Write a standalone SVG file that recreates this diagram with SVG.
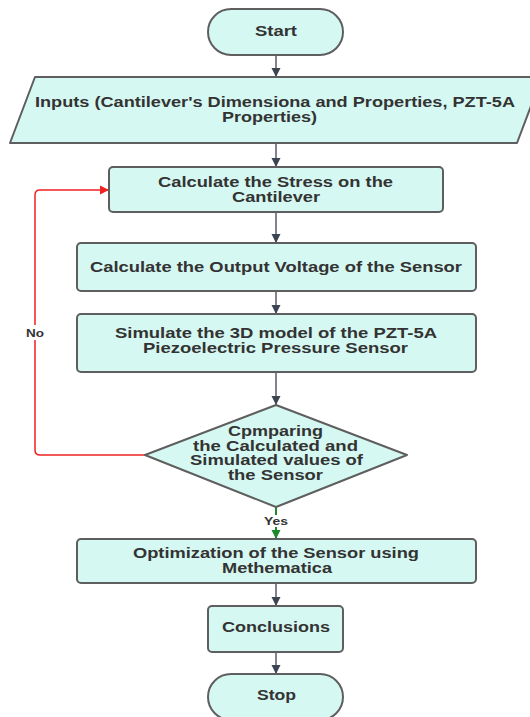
<svg xmlns="http://www.w3.org/2000/svg" width="530" height="717" viewBox="0 0 530 717">
<style>
.n{fill:#d6f8f2;stroke:#5e5e5e;stroke-width:2}
.t{font-family:"Liberation Sans",Arial,sans-serif;font-weight:bold;font-size:14px;fill:#333333;text-anchor:middle}
.s{font-size:10px}
.c{fill:none;stroke:#3d4451;stroke-width:1.3}
</style>
<defs>
<marker id="ah" markerUnits="userSpaceOnUse" markerWidth="10" markerHeight="10" refX="9" refY="5" orient="auto" viewBox="0 0 10 10"><path d="M0,0.5 L9,5 L0,9.5 Z" fill="#3d4451"/></marker>
<marker id="ar" markerUnits="userSpaceOnUse" markerWidth="10" markerHeight="10" refX="9" refY="5" orient="auto" viewBox="0 0 10 10"><path d="M0,0.5 L9,5 L0,9.5 Z" fill="#ee2222"/></marker>
<marker id="ag" markerUnits="userSpaceOnUse" markerWidth="10" markerHeight="10" refX="9" refY="5" orient="auto" viewBox="0 0 10 10"><path d="M0,0.5 L9,5 L0,9.5 Z" fill="#1a8a2a"/></marker>
</defs>
<rect width="530" height="717" fill="#ffffff"/>
<g id="connectors">
<line class="c" x1="276" y1="55" x2="276" y2="77" marker-end="url(#ah)"/>
<line class="c" x1="276" y1="143" x2="276" y2="167" marker-end="url(#ah)"/>
<line class="c" x1="276" y1="212" x2="276" y2="243" marker-end="url(#ah)"/>
<line class="c" x1="276" y1="291" x2="276" y2="314" marker-end="url(#ah)"/>
<line class="c" x1="276" y1="372" x2="276" y2="405" marker-end="url(#ah)"/>
<line x1="276" y1="507" x2="276" y2="539" stroke="#1a8a2a" stroke-width="2" marker-end="url(#ag)"/>
<line class="c" x1="276" y1="583" x2="276" y2="606" marker-end="url(#ah)"/>
<line class="c" x1="276" y1="652" x2="276" y2="674" marker-end="url(#ah)"/>
<path d="M145,455 H40 Q35,455 35,450 V195 Q35,190 40,190 H109" fill="none" stroke="#ee2222" stroke-width="1.5" marker-end="url(#ar)"/>
<rect x="24" y="325" width="22" height="15" fill="#ffffff"/>
<text class="t s" x="35" y="337" textLength="18" lengthAdjust="spacingAndGlyphs">No</text>
<rect x="262" y="515" width="28" height="12" fill="#ffffff"/>
<text class="t s" x="276" y="525" textLength="24" lengthAdjust="spacingAndGlyphs">Yes</text>
</g>
<g id="start">
<rect class="n" x="208" y="9" width="135" height="46" rx="23"/>
<text class="t" x="276" y="36" textLength="42" lengthAdjust="spacingAndGlyphs">Start</text>
</g>
<g id="inputs">
<path class="n" d="M35,77 L542,77 L517,143 L10,143 Z" stroke-linejoin="round"/>
<text class="t" x="275" y="107" textLength="480" lengthAdjust="spacingAndGlyphs">Inputs (Cantilever's Dimensiona and Properties, PZT-5A</text>
<text class="t" x="269.5" y="122" textLength="95" lengthAdjust="spacingAndGlyphs">Properties)</text>
</g>
<g id="stress">
<rect class="n" x="109" y="167" width="334" height="45" rx="4"/>
<text class="t" x="275.5" y="187" textLength="235" lengthAdjust="spacingAndGlyphs">Calculate the Stress on the</text>
<text class="t" x="276" y="202" textLength="88" lengthAdjust="spacingAndGlyphs">Cantilever</text>
</g>
<g id="voltage">
<rect class="n" x="77" y="243" width="399" height="48" rx="4"/>
<text class="t" x="276" y="272" textLength="372" lengthAdjust="spacingAndGlyphs">Calculate the Output Voltage of the Sensor</text>
</g>
<g id="simulate">
<rect class="n" x="77" y="314" width="399" height="58" rx="4"/>
<text class="t" x="276" y="338" textLength="322" lengthAdjust="spacingAndGlyphs">Simulate the 3D model of the PZT-5A</text>
<text class="t" x="275.5" y="353" textLength="265" lengthAdjust="spacingAndGlyphs">Piezoelectric Pressure Sensor</text>
</g>
<g id="compare">
<path class="n" d="M276,405 L407,455 L276,507 L145,455 Z" stroke-linejoin="round"/>
<text class="t" x="275.5" y="436" textLength="95" lengthAdjust="spacingAndGlyphs">Cpmparing</text>
<text class="t" x="275.5" y="450.5" textLength="165" lengthAdjust="spacingAndGlyphs">the Calculated and</text>
<text class="t" x="276.5" y="465" textLength="173" lengthAdjust="spacingAndGlyphs">Simulated values of</text>
<text class="t" x="275.5" y="480" textLength="95" lengthAdjust="spacingAndGlyphs">the Sensor</text>
</g>
<g id="optimize">
<rect class="n" x="77" y="539" width="399" height="44" rx="4"/>
<text class="t" x="276" y="558" textLength="286" lengthAdjust="spacingAndGlyphs">Optimization of the Sensor using</text>
<text class="t" x="277" y="573" textLength="110" lengthAdjust="spacingAndGlyphs">Methematica</text>
</g>
<g id="conclusions">
<rect class="n" x="208" y="606" width="135" height="46" rx="4"/>
<text class="t" x="276" y="632" textLength="108" lengthAdjust="spacingAndGlyphs">Conclusions</text>
</g>
<g id="stop">
<rect class="n" x="208" y="674" width="135" height="46" rx="23"/>
<text class="t" x="276.5" y="700" textLength="39" lengthAdjust="spacingAndGlyphs">Stop</text>
</g>
</svg>
